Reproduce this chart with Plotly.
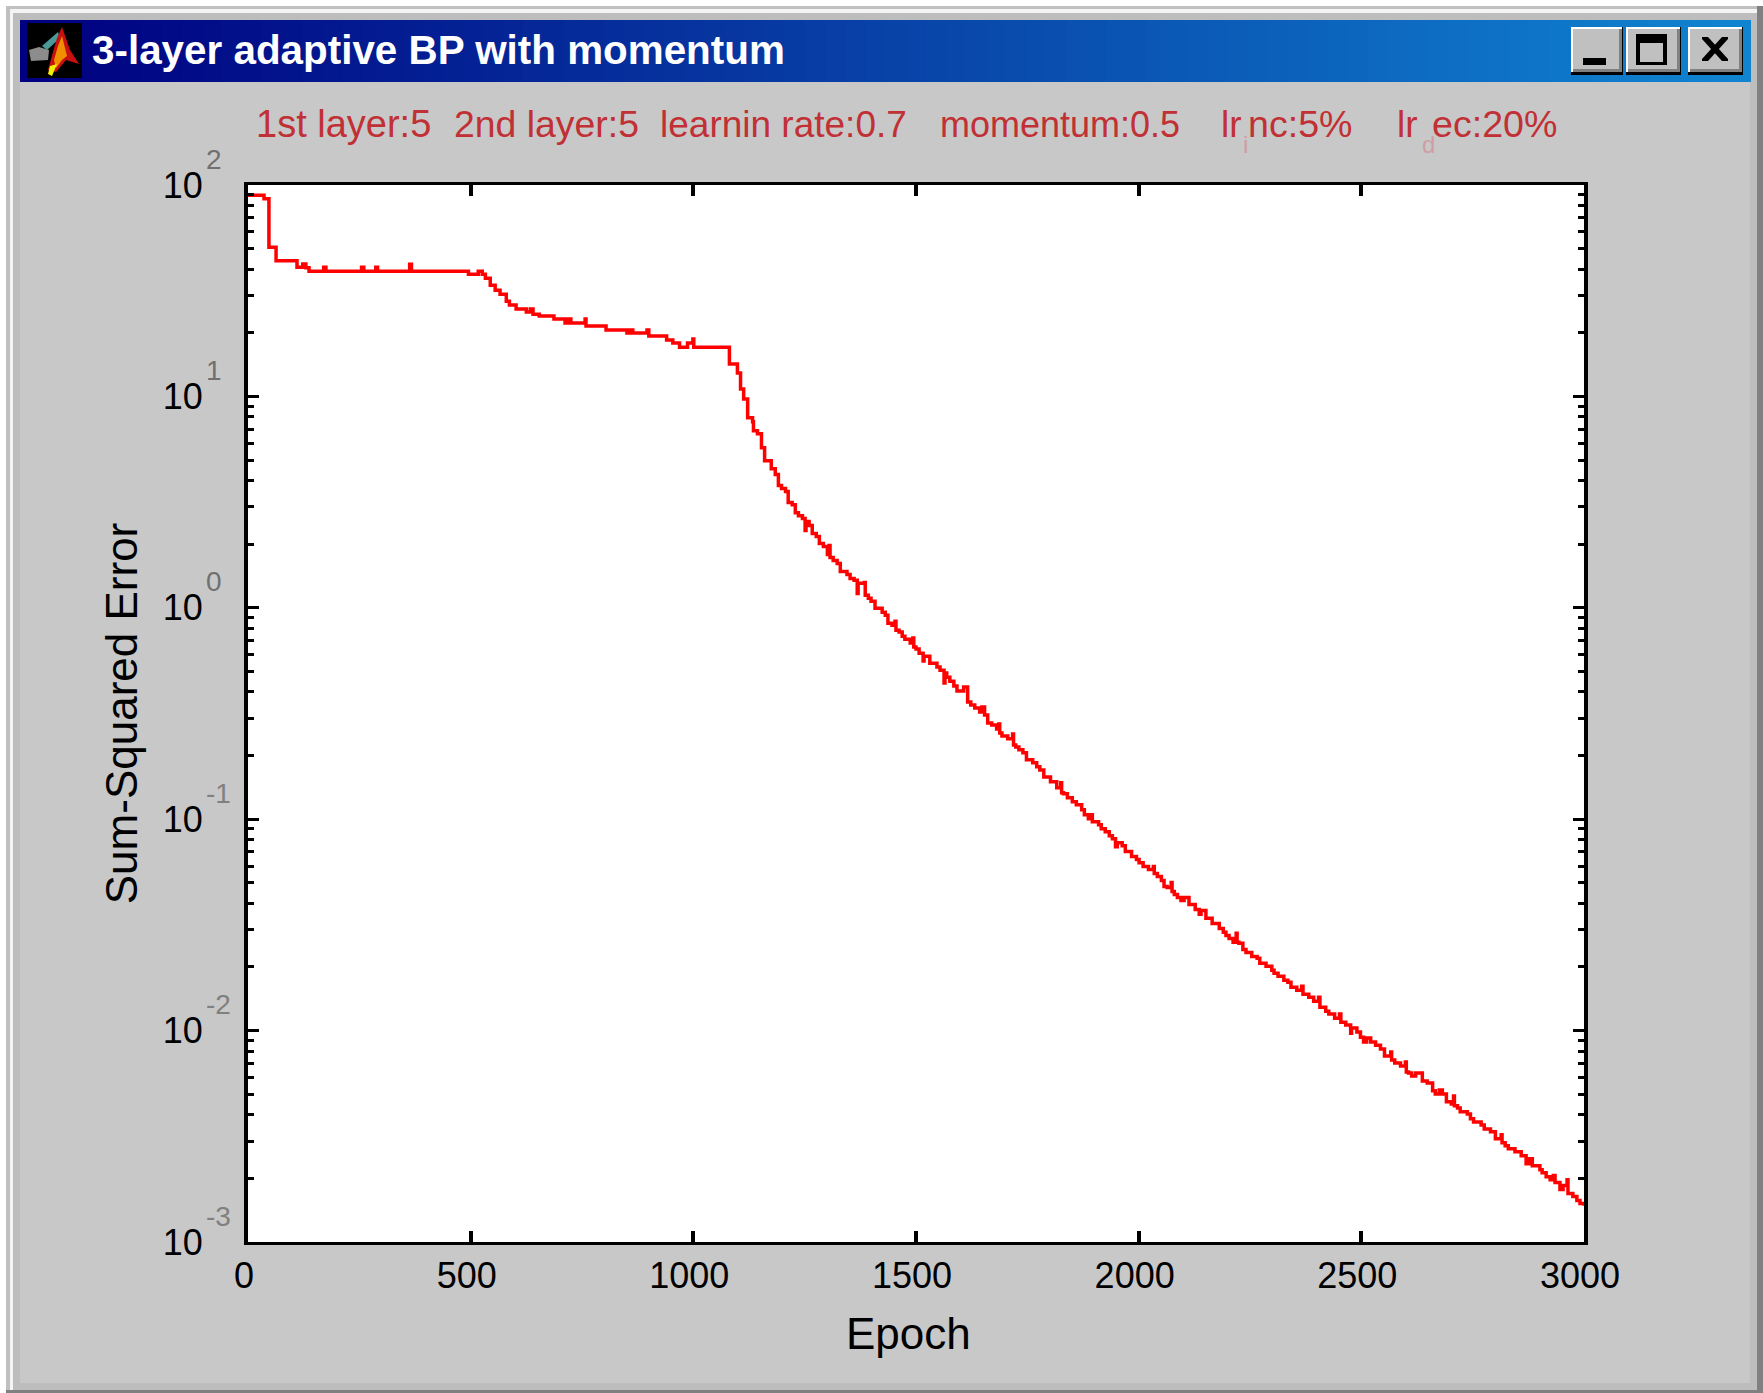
import plotly.graph_objects as go

# ---- data ----
epochs = [0,36,47,63,110,123,130,137,170,175,255,260,287,291,363,367,495,517,526,533,544,555,566,580,587,602,625,634,640,654,687,712,719,725,757,759,804,851,857,864,896,900,940,954,969,987,999,1001,1081,1099,1106,1113,1122,1133,1135,1144,1153,1160,1175,1184,1191,1198,1207,1213,1222,1229,1236,1245,1251,1253,1260,1267,1276,1283,1292,1301,1305,1307,1314,1323,1330,1345,1352,1361,1368,1370,1384,1386,1393,1399,1408,1424,1431,1437,1446,1453,1455,1462,1469,1475,1487,1493,1495,1500,1507,1516,1518,1531,1547,1554,1563,1565,1569,1576,1585,1592,1607,1616,1623,1632,1643,1648,1654,1661,1670,1681,1686,1688,1693,1706,1717,1719,1724,1731,1740,1748,1762,1771,1778,1787,1802,1816,1825,1827,1831,1840,1851,1860,1872,1878,1887,1894,1896,1910,1916,1925,1934,1941,1948,1952,1963,1970,1984,1995,2001,2010,2022,2033,2035,2042,2051,2057,2064,2073,2075,2080,2087,2095,2102,2113,2127,2136,2140,2151,2165,2181,2190,2196,2203,2212,2219,2221,2225,2234,2241,2254,2266,2272,2286,2299,2304,2313,2326,2335,2342,2355,2366,2369,2382,2393,2404,2407,2420,2427,2440,2451,2454,2465,2476,2478,2490,2498,2505,2512,2521,2532,2543,2552,2566,2568,2575,2588,2599,2601,2606,2613,2622,2637,2648,2660,2666,2675,2682,2691,2702,2707,2709,2716,2722,2738,2745,2752,2769,2776,2790,2801,2814,2816,2823,2830,2845,2859,2870,2877,2884,2901,2906,2915,2924,2931,2935,2946,2953,2962,2964,2975,2984,2991,3000]
log10_error = [1.952,1.935,1.705,1.642,1.611,1.626,1.609,1.592,1.611,1.592,1.611,1.592,1.611,1.592,1.625,1.592,1.578,1.592,1.578,1.559,1.526,1.502,1.483,1.450,1.432,1.413,1.399,1.413,1.389,1.380,1.366,1.347,1.366,1.347,1.366,1.333,1.314,1.300,1.314,1.300,1.314,1.286,1.267,1.253,1.233,1.253,1.271,1.233,1.153,1.111,1.035,0.988,0.899,0.880,0.837,0.823,0.757,0.696,0.658,0.630,0.578,0.564,0.550,0.498,0.488,0.450,0.436,0.422,0.366,0.408,0.389,0.351,0.337,0.304,0.290,0.252,0.295,0.238,0.224,0.210,0.172,0.158,0.139,0.130,0.068,0.116,0.120,0.059,0.045,0.031,-0.002,-0.021,-0.035,-0.073,-0.083,-0.064,-0.106,-0.115,-0.134,-0.149,-0.167,-0.143,-0.186,-0.195,-0.215,-0.252,-0.229,-0.262,-0.280,-0.295,-0.356,-0.309,-0.328,-0.347,-0.370,-0.394,-0.375,-0.446,-0.460,-0.474,-0.493,-0.469,-0.507,-0.545,-0.554,-0.573,-0.550,-0.592,-0.606,-0.620,-0.597,-0.649,-0.658,-0.672,-0.686,-0.719,-0.733,-0.752,-0.767,-0.800,-0.823,-0.851,-0.828,-0.875,-0.880,-0.899,-0.917,-0.932,-0.955,-0.979,-0.998,-0.979,-1.012,-1.026,-1.045,-1.059,-1.078,-1.092,-1.130,-1.111,-1.125,-1.153,-1.177,-1.191,-1.206,-1.224,-1.238,-1.224,-1.257,-1.271,-1.290,-1.318,-1.323,-1.300,-1.342,-1.356,-1.370,-1.384,-1.370,-1.403,-1.427,-1.450,-1.432,-1.469,-1.493,-1.517,-1.535,-1.550,-1.564,-1.582,-1.540,-1.582,-1.587,-1.616,-1.630,-1.649,-1.658,-1.682,-1.696,-1.715,-1.729,-1.743,-1.762,-1.771,-1.795,-1.809,-1.790,-1.828,-1.842,-1.861,-1.842,-1.889,-1.908,-1.922,-1.941,-1.922,-1.960,-1.974,-2.012,-1.988,-2.007,-2.031,-2.054,-2.035,-2.054,-2.069,-2.087,-2.120,-2.101,-2.139,-2.153,-2.167,-2.148,-2.196,-2.200,-2.215,-2.200,-2.238,-2.248,-2.285,-2.300,-2.281,-2.300,-2.337,-2.347,-2.309,-2.356,-2.366,-2.384,-2.394,-2.417,-2.432,-2.446,-2.465,-2.479,-2.512,-2.493,-2.531,-2.545,-2.559,-2.573,-2.592,-2.630,-2.606,-2.639,-2.658,-2.672,-2.691,-2.705,-2.686,-2.719,-2.752,-2.733,-2.705,-2.771,-2.785,-2.804,-2.818,-2.828]
n = min(len(epochs), len(log10_error))
sse = [10 ** v for v in log10_error[:n]]
epochs = epochs[:n]

x_ticks = [0, 500, 1000, 1500, 2000, 2500, 3000]
y_exponents = [2, 1, 0, -1, -2, -3]
minor_mult = [2, 3, 4, 5, 6, 7, 8, 9]
window_title = "3-layer adaptive BP with momentum"
param_labels = ["1st layer:5", "2nd layer:5", "learnin rate:0.7", "momentum:0.5", "lr", "nc:5%", "lr", "ec:20%"]
faint_labels = ["i", "d"]

# ---- layout geometry and styles (page pixels) ----
W, H = 1763, 1393
L, R, T, B = 248, 1584, 185, 1242
FONT = "Liberation Sans"
param_left = [254, 452, 658, 938, 1219, 1246, 1395, 1430]
param_size = [38, 37.4, 37, 36, 37, 37.6, 37, 37.6]
faint_left = [1241, 1420]
def px(x): return (x - L) / (R - L)
def py(y): return (B - y) / (B - T)

shapes = []
def rect(x0, y0, x1, y1, fill):
    shapes.append(dict(type="rect", xref="paper", yref="paper", x0=px(x0), x1=px(x1), y0=py(y0), y1=py(y1),
                       fillcolor=fill, line=dict(width=0), layer="below"))
def poly(points, fill):
    path = "M" + "L".join(f"{px(a):.5f},{py(b):.5f}" for a, b in points) + "Z"
    shapes.append(dict(type="path", xref="paper", yref="paper", path=path, fillcolor=fill,
                       line=dict(width=0), layer="below"))

# window frame
rect(6, 6, W, H, "#c0c0c0")
rect(10, 9, 1757, 1390, "#f4f4f4")
rect(13, 13, 1757, 1390, "#bdbdbd")
rect(1757, 6, W, H, "#808080")
rect(6, 1390, W, H, "#808080")
rect(20, 82, 1750, 1383, "#c8c8c8")
# title bar gradient
steps = 86
x0, x1 = 20, 1750
c0, c1 = (0, 0, 128), (16, 132, 208)
for i in range(steps):
    t = i / (steps - 1)
    col = "rgb(%d,%d,%d)" % tuple(round(a + (b - a) * t) for a, b in zip(c0, c1))
    rect(x0 + (x1 - x0) * i / steps, 20, x0 + (x1 - x0) * (i + 1) / steps + 1, 82, col)
# icon
rect(27, 23, 82, 78, "#000000")
poly([(29, 50), (39, 47), (49, 50), (48, 60), (31, 61)], "#8c8c8c")
poly([(42, 46), (58, 32), (60, 38), (47, 50)], "#4a9a9a")
poly([(62, 27), (70, 50), (79, 64), (66, 60), (56, 72), (48, 70), (53, 52), (57, 38)], "#c81010")
poly([(62, 36), (67, 56), (62, 60), (56, 68), (54, 60), (58, 46)], "#f09000")
poly([(50, 66), (57, 64), (52, 76), (48, 74)], "#f0f000")
# buttons
for bx0, bx1 in [(1571, 1623), (1626, 1681), (1688, 1743)]:
    rect(bx0, 27, bx1, 75, "#000000")
    rect(bx0, 27, bx1 - 1, 72, "#ffffff")
    rect(bx0 + 2, 29, bx1 - 1, 72, "#808080")
    rect(bx0 + 2, 29, bx1 - 4, 69, "#c0c0c0")
rect(1583, 58, 1606, 65, "#000000")
rect(1636, 34, 1667, 65, "#000000")
rect(1640, 43, 1663, 62, "#c0c0c0")
poly([(1702, 37), (1708, 37), (1728, 59), (1728, 61), (1722, 61), (1702, 39)], "#000000")
poly([(1728, 37), (1722, 37), (1702, 59), (1702, 61), (1708, 61), (1728, 39)], "#000000")
# plot area
rect(L, T, R, B, "#ffffff")

ann = []
ann.append(dict(text=f"<b>{window_title}</b>", xref="paper", yref="paper", x=px(90), y=py(50), xanchor="left",
                yanchor="middle", showarrow=False, font=dict(family=FONT, size=40.4, color="#ffffff")))
for s, x, size in zip(param_labels, param_left, param_size):
    ann.append(dict(text=s, xref="paper", yref="paper", x=px(x), y=py(124), xanchor="left", yanchor="middle",
                    showarrow=False, font=dict(family=FONT, size=size, color="#c03035")))
for s, x in zip(faint_labels, faint_left):
    ann.append(dict(text=s, xref="paper", yref="paper", x=px(x), y=py(145), xanchor="left", yanchor="middle",
                    showarrow=False, font=dict(family=FONT, size=24, color="#cf9ea2")))
for e in y_exponents:
    ann.append(dict(text=str(e), xref="paper", yref="y", x=px(204), y=e,
                    xanchor="left", yanchor="middle", yshift=26, showarrow=False,
                    font=dict(family=FONT, size=28, color="#707070" if e >= 0 else "#808080")))
ann.append(dict(text="Epoch", xref="paper", yref="paper", x=px(908), y=py(1333), xanchor="center", yanchor="middle",
                showarrow=False, font=dict(family=FONT, size=44, color="#000000")))

fig = go.Figure(go.Scatter(x=epochs, y=sse, mode="lines", line=dict(color="#ff0000", width=3.5, shape="hv"),
                           hoverinfo="skip"))

y_minor = [m * 10.0 ** e for e in y_exponents[1:] for m in minor_mult]
fig.update_layout(
    width=W, height=H, autosize=False, showlegend=False,
    margin=dict(l=L, r=W - R, t=T, b=H - B, pad=0),
    paper_bgcolor="#ffffff", plot_bgcolor="#ffffff",
    font=dict(family=FONT, color="#000000"),
    shapes=shapes, annotations=ann,
    xaxis=dict(type="linear", range=[0, 3000], tickmode="array", tickvals=x_ticks, ticktext=[str(v) for v in x_ticks],
               ticks="inside", ticklen=11, tickwidth=4, tickcolor="#000000", showgrid=False, zeroline=False,
               showline=True, linecolor="#000000", linewidth=3, mirror="ticks", tickfont=dict(size=36, color="#000000"),
               ticklabelstandoff=0, ticklabelshift=-4),
    yaxis=dict(type="log", range=[-3, 2], tickmode="array", tickvals=[10.0 ** e for e in y_exponents],
               ticktext=["10"] * len(y_exponents), ticks="inside", ticklen=11, tickwidth=3, tickcolor="#000000",
               showgrid=False, zeroline=False, showline=True, linecolor="#000000", linewidth=4, mirror="ticks",
               tickfont=dict(size=36, color="#000000"), ticklabelstandoff=34,
               minor=dict(tickmode="array", tickvals=y_minor, ticks="inside", ticklen=6, tickwidth=3,
                          tickcolor="#000000", showgrid=False),
               title=dict(text="Sum-Squared Error", font=dict(size=44, color="#000000"), standoff=12)),
)
fig.write_html("out.html", post_script="document.body.style.margin='0';document.documentElement.style.overflow='hidden';",
               config=dict(displayModeBar=False))
print(len(epochs), len(log10_error))
